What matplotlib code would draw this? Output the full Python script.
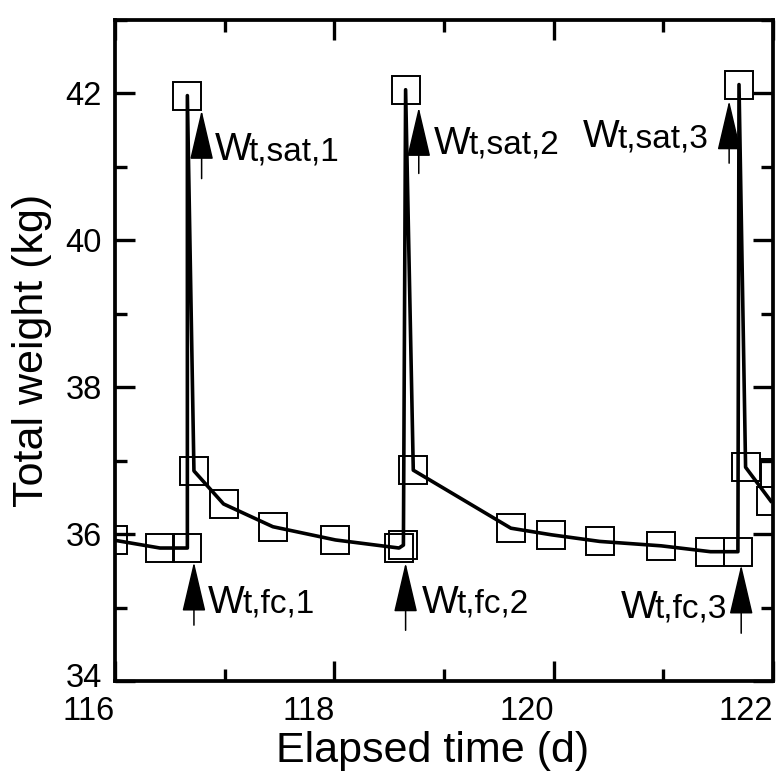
import matplotlib
matplotlib.use("Agg")
import matplotlib.pyplot as plt
import matplotlib.transforms as mtransforms
from matplotlib.ticker import MultipleLocator

plt.rcParams['font.family'] = ['Liberation Sans', 'DejaVu Sans']

# ======================
# DATA
# ======================
day = [115.98, 116.41, 116.66, 116.66, 116.72, 116.99, 117.44, 118.01,
       118.59, 118.63, 118.65, 118.72, 119.61, 119.98, 120.42, 120.98,
       121.43, 121.68, 121.69, 121.75, 121.98, 122.02]
weight = [35.92, 35.81, 35.81, 41.97, 36.86, 36.41, 36.10, 35.92,
          35.81, 35.85, 42.05, 36.87, 36.08, 35.99, 35.90, 35.84,
          35.76, 35.76, 42.12, 36.91, 36.45, 36.83]

# arrows marking saturated / field capacity weights
sat_x = [116.79, 118.77, 121.60]
sat_tail = [40.84, 40.91, 41.05]
sat_tip = [41.77, 41.81, 41.90]
fc_x = [116.72, 118.65, 121.71]
fc_tail = [34.76, 34.69, 34.65]
fc_tip = [35.62, 35.61, 35.58]

# label anchors (left of W, baseline)
sat_label_x = [116.91, 118.91, 120.27]
sat_label_y = [41.09, 41.18, 41.27]
fc_label_x = [116.85, 118.80, 120.61]
fc_label_y = [34.93, 34.93, 34.86]
sat_sub = ["t,sat,1", "t,sat,2", "t,sat,3"]
fc_sub = ["t,fc,1", "t,fc,2", "t,fc,3"]

xticks = [116, 118, 120, 122]
yticks = [34, 36, 38, 40, 42]

# ======================
# FIGURE
# ======================
fig = plt.figure(figsize=(7.79, 7.82), dpi=100)
ax = fig.add_axes([0.1476, 0.1292, 0.8447, 0.8453])

# line (last square sits past the axis end, not on the line)
ax.plot(day[:-1], weight[:-1], color="black", lw=2.6, zorder=3)
ax.plot(day, weight, ls="none", marker="s", ms=20, mfc="none",
        mec="black", mew=1.4, zorder=2)

arrow_props = dict(arrowstyle="-|>,head_length=3.2,head_width=0.75",
                   mutation_scale=10, color="black", lw=1.1,
                   shrinkA=0, shrinkB=0)

for x, a, b in zip(sat_x + fc_x, sat_tail + fc_tail, sat_tip + fc_tip):
    ax.annotate("", xy=(x, b), xytext=(x, a), arrowprops=arrow_props)

for x, y, s in zip(sat_label_x + fc_label_x, sat_label_y + fc_label_y,
                   sat_sub + fc_sub):
    ax.annotate("W", xy=(x, y), fontsize=28, va="baseline", ha="left")
    ax.annotate(s, xy=(x, y), xytext=(24.5, 0), textcoords="offset points",
                fontsize=24, va="baseline", ha="left")

ax.set_xlim(116, 122)
ax.set_ylim(34, 43)
ax.set_xticks(xticks)
ax.set_yticks(yticks)
ax.xaxis.set_minor_locator(MultipleLocator(1))
ax.yaxis.set_minor_locator(MultipleLocator(1))

ax.tick_params(which="both", direction="in", top=True, right=True,
               width=2.4, labelsize=23.5)
ax.tick_params(which="major", length=14.4)
ax.tick_params(which="minor", length=8.6)
ax.tick_params(axis="x", pad=11)
ax.tick_params(axis="y", pad=9.5)
plt.setp(ax.get_xticklabels(), ha="right")

# lift the lowest y label a little so it clears the "116" below it
lab34 = ax.get_yticklabels()[0]
lab34.set_transform(lab34.get_transform() +
                    mtransforms.ScaledTranslation(0, 4 / 72, fig.dpi_scale_trans))

for sp in ax.spines.values():
    sp.set_linewidth(2.7)

ax.set_xlabel("Elapsed time (d)", fontsize=31)
ax.set_ylabel("Total weight (kg)", fontsize=31)
ax.xaxis.set_label_coords(0.482, -0.076)
ax.yaxis.set_label_coords(-0.0957, 0.5)

plt.savefig("out.png", dpi=100)
plt.close()
